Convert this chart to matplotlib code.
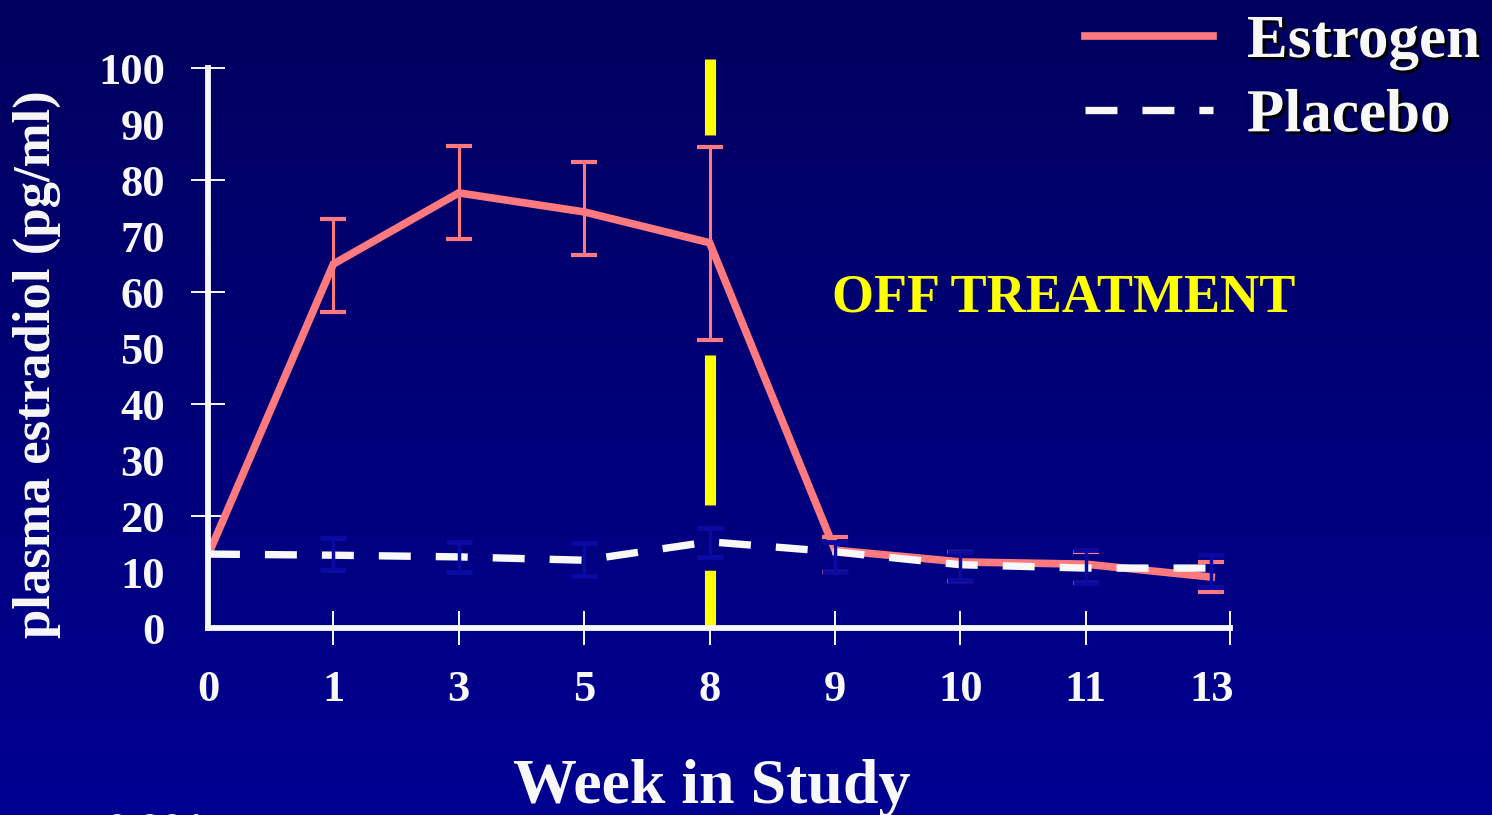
import numpy as np
import matplotlib
matplotlib.use("Agg")
import matplotlib.pyplot as plt
import matplotlib.patheffects as pe

plt.rcParams['font.family'] = ['Liberation Serif', 'DejaVu Serif']
plt.rcParams['font.weight'] = 'bold'
plt.rcParams['lines.scale_dashes'] = False

# ---- data ----
weeks = ['0', '1', '3', '5', '8', '9', '10', '11', '13']
estrogen = [13.0, 65.0, 77.7, 74.3, 68.8, 13.9, 11.8, 11.4, 9.1]
estrogen_low = [13.0, 56.4, 69.5, 66.6, 51.4, 10.0, 8.4, 8.0, 6.4]
estrogen_high = [13.0, 73.0, 86.1, 83.2, 85.9, 16.3, 13.6, 13.6, 11.8]
placebo = [13.2, 13.0, 12.7, 12.1, 15.4, 13.6, 11.3, 10.7, 10.7]
placebo_low = [13.2, 10.4, 10.0, 9.3, 12.7, 10.0, 8.6, 8.0, 7.3]
placebo_high = [13.2, 16.1, 15.4, 15.2, 17.9, 15.4, 13.6, 13.9, 13.0]
y_ticks = [0, 10, 20, 30, 40, 50, 60, 70, 80, 90, 100]
y_marks = [20, 40, 60, 80, 100]
treatment_end_week = '8'

W, H = 1492, 815
fig = plt.figure(figsize=(W / 100, H / 100), dpi=100)

# background gradient
bg = fig.add_axes([0, 0, 1, 1], zorder=-10)
grad = np.linspace(0, 1, 256).reshape(-1, 1)
top = np.array([0, 0, 0x5e]) / 255
bot = np.array([0, 0, 0x92]) / 255
img = top[None, None, :] * (1 - grad[:, :, None]) + bot[None, None, :] * grad[:, :, None]
bg.imshow(img, aspect='auto', extent=[0, 1, 0, 1])
bg.axis('off')

ax = fig.add_axes([208 / W, (H - 628) / H, 1022 / W, 560 / H])
ax.set_facecolor('none')
x = np.arange(len(weeks))
ax.set_xlim(0, 8.15)
ax.set_ylim(0, 100)

pink = '#ff7a7e'
white = '#f8f8f8'
ebar_blue = '#0a0aa2'

est = np.array(estrogen)
ax.errorbar(x[1:], est[1:],
            yerr=[est[1:] - np.array(estrogen_low[1:]), np.array(estrogen_high[1:]) - est[1:]],
            fmt='none', ecolor=pink, elinewidth=2.2, capsize=9.5, capthick=3, zorder=3)
ax.plot(x, est, color=pink, lw=5.5, solid_joinstyle='miter', zorder=4, label='Estrogen')

pl = np.array(placebo)
ax.plot(x, pl, color=white, lw=5.3, dashes=(23, 18), dash_capstyle='butt', zorder=5, label='Placebo')
ax.errorbar(x[1:], pl[1:],
            yerr=[pl[1:] - np.array(placebo_low[1:]), np.array(placebo_high[1:]) - pl[1:]],
            fmt='none', ecolor=ebar_blue, elinewidth=2.5, capsize=9.5, capthick=3.5, zorder=6)

# treatment end line
xi = weeks.index(treatment_end_week)
vl, = ax.plot([xi, xi], [101.6, 0], color='#ffff00', lw=8, clip_on=False, zorder=2,
              solid_capstyle='butt', dash_capstyle='butt')
vl.set_dashes((54.7, 158.4, 108, 47, 60, 100))

# spines
for s in ['top', 'right']:
    ax.spines[s].set_visible(False)
for s in ['left', 'bottom']:
    ax.spines[s].set_color(white)
    ax.spines[s].set_linewidth(4.2)
    ax.spines[s].set_zorder(7)

ax.xaxis.remove_overlapping_locs = False
ax.yaxis.remove_overlapping_locs = False
ax.set_xticks(x)
ax.set_xticklabels(weeks)
ax.set_xticks(list(x[1:8]) + [8.15], minor=True)
ax.set_yticks(y_ticks)
ax.set_yticklabels([str(v) for v in y_ticks])
ax.set_yticks(y_marks, minor=True)
ax.tick_params(which='major', length=0, colors=white, labelsize=32)
ax.tick_params(axis='x', which='major', pad=30)
ax.tick_params(axis='y', which='major', pad=31)
ax.tick_params(which='minor', direction='inout', length=24, width=1.4, color=white)
for lab in ax.get_xticklabels() + ax.get_yticklabels():
    lab.set_fontweight('bold')

fig.text(712 / W, 1 - 803 / H, 'Week in Study', color=white, fontsize=46,
         fontweight='bold', ha='center', va='baseline')
fig.text(37 / W, 1 - 364 / H, 'plasma estradiol (pg/ml)', color=white, fontsize=38,
         fontweight='bold', ha='center', va='center', rotation=90)
fig.text(832 / W, 1 - 298 / H, 'OFF TREATMENT', color='#ffff00', fontsize=39,
         fontweight='bold', ha='left', va='center')
fig.text(105 / W, 1 - 812 / H, '0.001', color=white, fontsize=32,
         fontweight='bold', ha='left', va='top')

leg = ax.legend(loc='upper left', bbox_to_anchor=(1085 / W, 1 - 14 / H),
                bbox_transform=fig.transFigure, frameon=False, fontsize=44,
                handlelength=2.1, handletextpad=0.55, labelspacing=0.3,
                borderpad=0, borderaxespad=0)
for t in leg.get_texts():
    t.set_color(white)
    t.set_fontweight('bold')
    t.set_path_effects([pe.withSimplePatchShadow(offset=(2, -2), shadow_rgbFace='black', alpha=1)])

fig.savefig('out.png', dpi=100)
